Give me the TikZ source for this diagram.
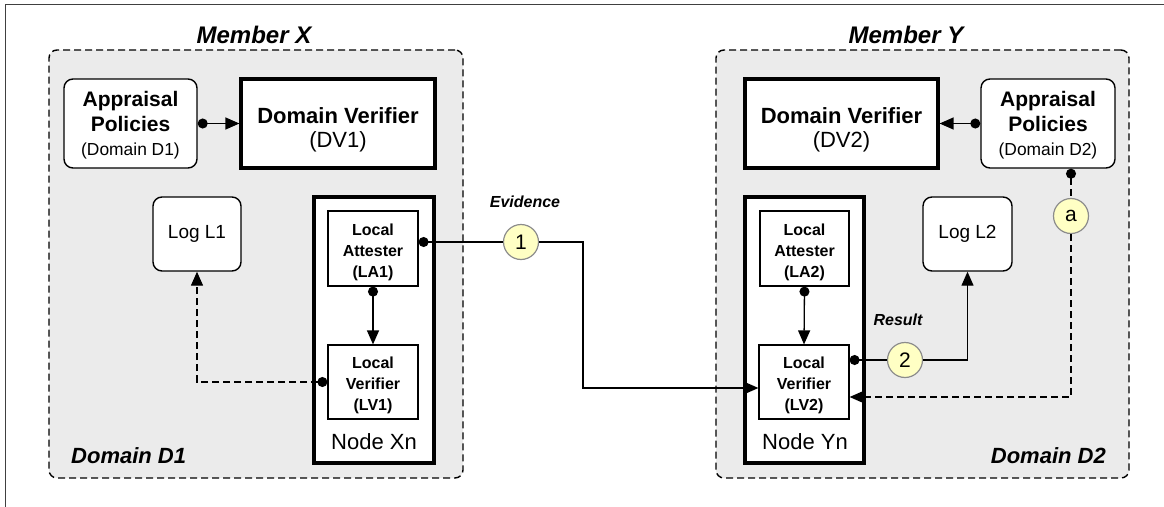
\documentclass[tikz,border=0pt]{standalone}
\usepackage{fontspec}
\setmainfont{Liberation Sans}
\usetikzlibrary{arrows.meta}

\definecolor{domgray}{HTML}{EBEBEB}
\definecolor{numfill}{HTML}{FFFFC4}
\definecolor{numline}{HTML}{8C8C8C}
\newcommand{\sz}[2]{\fontsize{#1}{#2}\selectfont}
\newcommand{\lift}[1]{\rule{0pt}{#1}}

\tikzset{
	domainbox/.style = {draw, fill=domgray, line width=1.4pt, dash pattern=on 7pt off 4pt, rounded corners=8pt},
	roundbox/.style = {draw, fill=white, line width=1.4pt, rounded corners=9pt, align=center, inner sep=0pt},
	thickbox/.style = {draw, fill=white, line width=3.2pt, align=center, inner sep=0pt},
	plainbox/.style = {draw, fill=white, line width=1.2pt, align=center, inner sep=0pt, minimum width=90pt, minimum height=75pt, font=\sz{16}{21}\bfseries},
	numcirc/.style = {circle, draw=numline, fill=numfill, line width=1.2pt, minimum size=35pt, inner sep=0pt, font=\sz{21}{24}},
	title/.style = {inner sep=0pt, font=\sz{24}{28}\bfseries\itshape},
	corner/.style = {inner sep=0pt, font=\sz{22}{26}\bfseries\itshape},
	flow/.style = {inner sep=0pt, font=\sz{16}{20}\bfseries\itshape},
	link/.style = {line width=1.3pt},
	broken/.style = {line width=1.3pt, dash pattern=on 7pt off 4pt},
	dotfrom/.style = {{Circle[length=10pt]}-},
	arrowto/.style = {-{Triangle[length=14pt,width=12pt]}},
	dotto/.style = {{Circle[length=10pt]}-{Triangle[length=14pt,width=12pt]}}
}

\begin{document}
\begin{tikzpicture}[x=1pt, y=-1pt]
	\clip (0,0) rectangle (1164,506);
	\draw [line width=1.5pt, draw=black!75] (5.5,520) -- (5.5,4.5) -- (1180,4.5);

	\node [domainbox, minimum width=414pt, minimum height=428pt] (domX) at (256,264) {};
	\node [domainbox, minimum width=413pt, minimum height=428pt] (domY) at (922.5,264) {};
	\node [title, anchor=base] (memX) at (254,43) {Member X};
	\node [title, anchor=base] (memY) at (906,43) {Member Y};
	\node [corner, anchor=base west] (dmX) at (71,463) {Domain D1};
	\node [corner, anchor=base east] (dmY) at (1106,463) {Domain D2};

	\node [roundbox, minimum width=133pt, minimum height=89pt, font=\sz{21}{25}] (polX) at (130.5,123.5) {\lift{18pt}\textbf{Appraisal}\\\textbf{Policies}\\[-1pt]{\sz{17.4}{20}(Domain D1)}};
	\node [thickbox, minimum width=194pt, minimum height=89pt, font=\sz{22}{24}] (dvX) at (338,123.5) {\lift{28pt}\textbf{Domain Verifier}\\(DV1)};
	\node [roundbox, minimum width=88pt, minimum height=74pt, font=\sz{19}{22}] (logX) at (197,234) {Log L1};
	\node [thickbox, minimum width=120pt, minimum height=266pt] (nodeX) at (374,330) {};
	\node [plainbox] (laX) at (373,248.5) {\lift{19pt}Local\\Attester\\(LA1)};
	\node [plainbox, minimum height=74pt] (lvX) at (373,382) {\lift{19pt}Local\\Verifier\\(LV1)};
	\node [anchor=base, inner sep=0pt, font=\sz{22}{26}] (nmX) at (374,449) {Node Xn};

	\node [thickbox, minimum width=193pt, minimum height=89pt, font=\sz{22}{24}] (dvY) at (841.5,123.5) {\lift{28pt}\textbf{Domain Verifier}\\(DV2)};
	\node [roundbox, minimum width=134pt, minimum height=89pt, font=\sz{21}{25}] (polY) at (1048,123.5) {\lift{18pt}\textbf{Appraisal}\\\textbf{Policies}\\[-1pt]{\sz{17.4}{20}(Domain D2)}};
	\node [roundbox, minimum width=89pt, minimum height=74pt, font=\sz{19}{22}] (logY) at (967.5,234) {Log L2};
	\node [thickbox, minimum width=119pt, minimum height=266pt] (nodeY) at (804.5,330) {};
	\node [plainbox, minimum width=89pt] (laY) at (804.5,248.5) {\lift{19pt}Local\\Attester\\(LA2)};
	\node [plainbox, minimum height=74pt] (lvY) at (804,382) {\lift{19pt}Local\\Verifier\\(LV2)};
	\node [anchor=base, inner sep=0pt, font=\sz{22}{26}] (nmY) at (805,449) {Node Yn};

	\node [flow, anchor=base] (ev) at (525,207) {Evidence};
	\node [flow, anchor=base] (res) at (898,325) {Result};
	\node [numcirc] (n1) at (521,242) {1};
	\node [numcirc] (n2) at (905,360) {2};
	\node [numcirc] (na) at (1071,216) {a};
	\coordinate (evturn) at (583,242);

	\draw [link, dotto] (polX.east) -- (dvX.west);
	\draw [link, dotto] (polY.west) -- (dvY.east);
	\draw [link, dotto] (laX.south) -- (lvX.north);
	\draw [link, dotto] (laY.south) -- (lvY.north);
	\draw [broken, dotto] (lvX.west) -| (logX.south);
	\draw [link, dotfrom] (laX.east |- n1) -- (n1);
	\draw [link, arrowto] (n1) -- (evturn) |- ([yshift=-6pt]lvY.west);
	\draw [link, dotfrom] (lvY.east |- n2) -- (n2);
	\draw [link, arrowto] (n2) -| (logY.south);
	\draw [broken, dotfrom] (polY.south -| na) -- (na);
	\draw [broken, arrowto] (na) |- ([yshift=-15pt]lvY.east);
\end{tikzpicture}
\end{document}
